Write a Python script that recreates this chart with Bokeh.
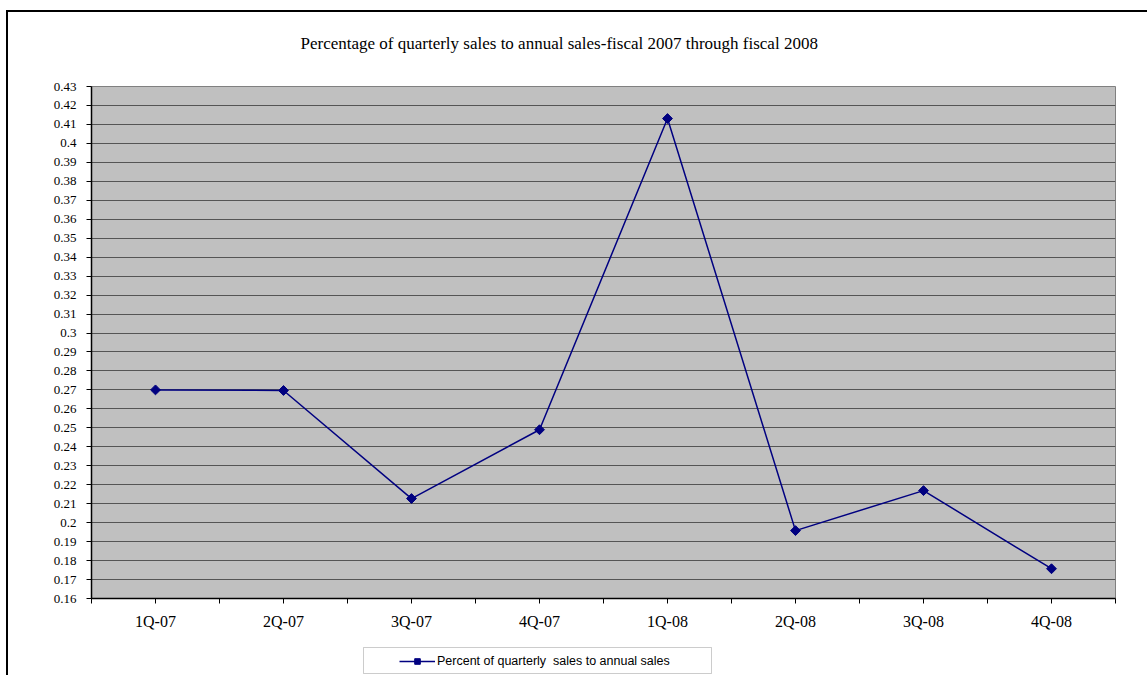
import numpy as np
from bokeh.plotting import figure
from bokeh.layouts import column
from bokeh.models import (Range1d, FixedTicker, CustomJSTickFormatter, BoxAnnotation,
                          Legend, LegendItem, ColumnDataSource, Label)
from bokeh.embed import file_html
from bokeh.resources import INLINE

quarters = ["1Q-07", "2Q-07", "3Q-07", "4Q-07", "1Q-08", "2Q-08", "3Q-08", "4Q-08"]
pct = [0.2700, 0.2697, 0.2127, 0.2490, 0.4131, 0.1958, 0.2169, 0.1757]
y_ticks = [round(0.16 + 0.01 * i, 2) for i in range(28)]
title_text = "Percentage  of  quarterly sales to annual sales-fiscal 2007 through fiscal 2008"
series_name = "Percent of quarterly  sales to annual sales"

NAVY = "#000080"
xs = [i + 0.5 for i in range(len(quarters))]
src = ColumnDataSource(dict(x=xs, y=pct, q=quarters))

# title strip
t = figure(width=1139, height=64, output_backend="svg", toolbar_location=None,
           x_range=Range1d(0, 1024), y_range=Range1d(0, 64),
           min_border=0, min_border_left=83, min_border_right=32,
           min_border_top=0, min_border_bottom=0)
t.axis.visible = False
t.grid.visible = False
t.outline_line_color = None
t.background_fill_color = "white"
t.border_fill_color = "white"
t.add_layout(Label(x=209, y=33, text=title_text, text_align="left",
                   text_baseline="middle", text_font="Liberation Serif",
                   text_font_size="17px", text_color="black"))

p = figure(width=1139, height=566, output_backend="svg", toolbar_location=None,
           x_range=Range1d(0, len(quarters)), y_range=Range1d(0.16, 0.43),
           min_border_left=83, min_border_right=32, min_border_top=10, min_border_bottom=44)
p.background_fill_color = "#C0C0C0"
p.border_fill_color = "white"
p.outline_line_color = "#808080"
p.outline_line_width = 1

# axes
p.xaxis.ticker = FixedTicker(ticks=[i * 0.5 for i in range(2 * len(quarters) + 1)])
overrides = {}
for i in range(2 * len(quarters) + 1):
    v = i * 0.5
    overrides[v] = quarters[i // 2] if i % 2 == 1 else ""
p.xaxis.major_label_overrides = overrides
p.xaxis.major_label_text_font = "Liberation Serif"
p.xaxis.major_label_text_font_size = "16px"
p.xaxis.major_label_text_color = "black"
p.xaxis.major_label_standoff = 9
p.xaxis.major_tick_in = 0
p.xaxis.major_tick_out = 5
p.xaxis.minor_tick_line_color = None
p.xaxis.axis_line_color = "black"
p.xaxis.axis_line_width = 1.5
p.xaxis.major_tick_line_color = "black"

p.yaxis.ticker = FixedTicker(ticks=y_ticks)
p.yaxis.formatter = CustomJSTickFormatter(code="return (+tick.toFixed(2)).toString();")
p.yaxis.major_label_text_font = "Liberation Serif"
p.yaxis.major_label_text_font_size = "13px"
p.yaxis.major_label_text_color = "black"
p.yaxis.major_label_standoff = 10
p.yaxis.major_tick_in = 0
p.yaxis.major_tick_out = 5
p.yaxis.minor_tick_line_color = None
p.yaxis.axis_line_color = "black"
p.yaxis.axis_line_width = 1.5
p.yaxis.major_tick_line_color = "black"

p.xgrid.grid_line_color = None
p.ygrid.grid_line_color = "#555555"
p.ygrid.grid_line_width = 1

line = p.line("x", "y", source=src, line_color=NAVY, line_width=1.5)
marks = p.scatter("x", "y", source=src, marker="square", size=7, angle=np.pi / 4,
                  fill_color=NAVY, line_color=NAVY)

# legend strip below the chart (its data range is set so the series stays out of view)
q = figure(width=1139, height=33, output_backend="svg", toolbar_location=None,
           x_range=Range1d(0, len(quarters)), y_range=Range1d(10, 11),
           min_border=0, min_border_left=83, min_border_right=32,
           min_border_top=0, min_border_bottom=0)
q.axis.visible = False
q.grid.visible = False
q.outline_line_color = None
q.background_fill_color = "white"
q.border_fill_color = "white"
q.extra_x_ranges = {"px": Range1d(0, 1024)}
q.extra_y_ranges = {"px": Range1d(0, 33)}
q.add_layout(BoxAnnotation(left=272, right=620, bottom=2, top=28,
                           x_range_name="px", y_range_name="px",
                           fill_color="white", fill_alpha=1,
                           line_color="#555555", line_width=1, level="underlay"))
lg_line = q.line("x", "y", source=src, line_color=NAVY, line_width=1.5)
lg_mark = q.scatter("x", "y", source=src, marker="square", size=7, angle=np.pi / 4,
                    fill_color=NAVY, line_color=NAVY)
legend = Legend(items=[LegendItem(label=series_name, renderers=[lg_line, lg_mark])],
                location=(308, 7), orientation="horizontal",
                border_line_color=None, background_fill_alpha=0,
                label_text_font="Liberation Sans", label_text_font_size="12.5px",
                label_text_color="black", glyph_width=36, glyph_height=14,
                label_height=14, padding=4, margin=0, label_standoff=2)
q.add_layout(legend, "center")

layout = column(t, p, q, spacing=0)
layout.margin = (10, 0, 0, 6)
layout.styles = {"border-left": "2px solid black", "border-top": "2px solid black"}

open("out.html", "w").write(file_html(layout, INLINE))
